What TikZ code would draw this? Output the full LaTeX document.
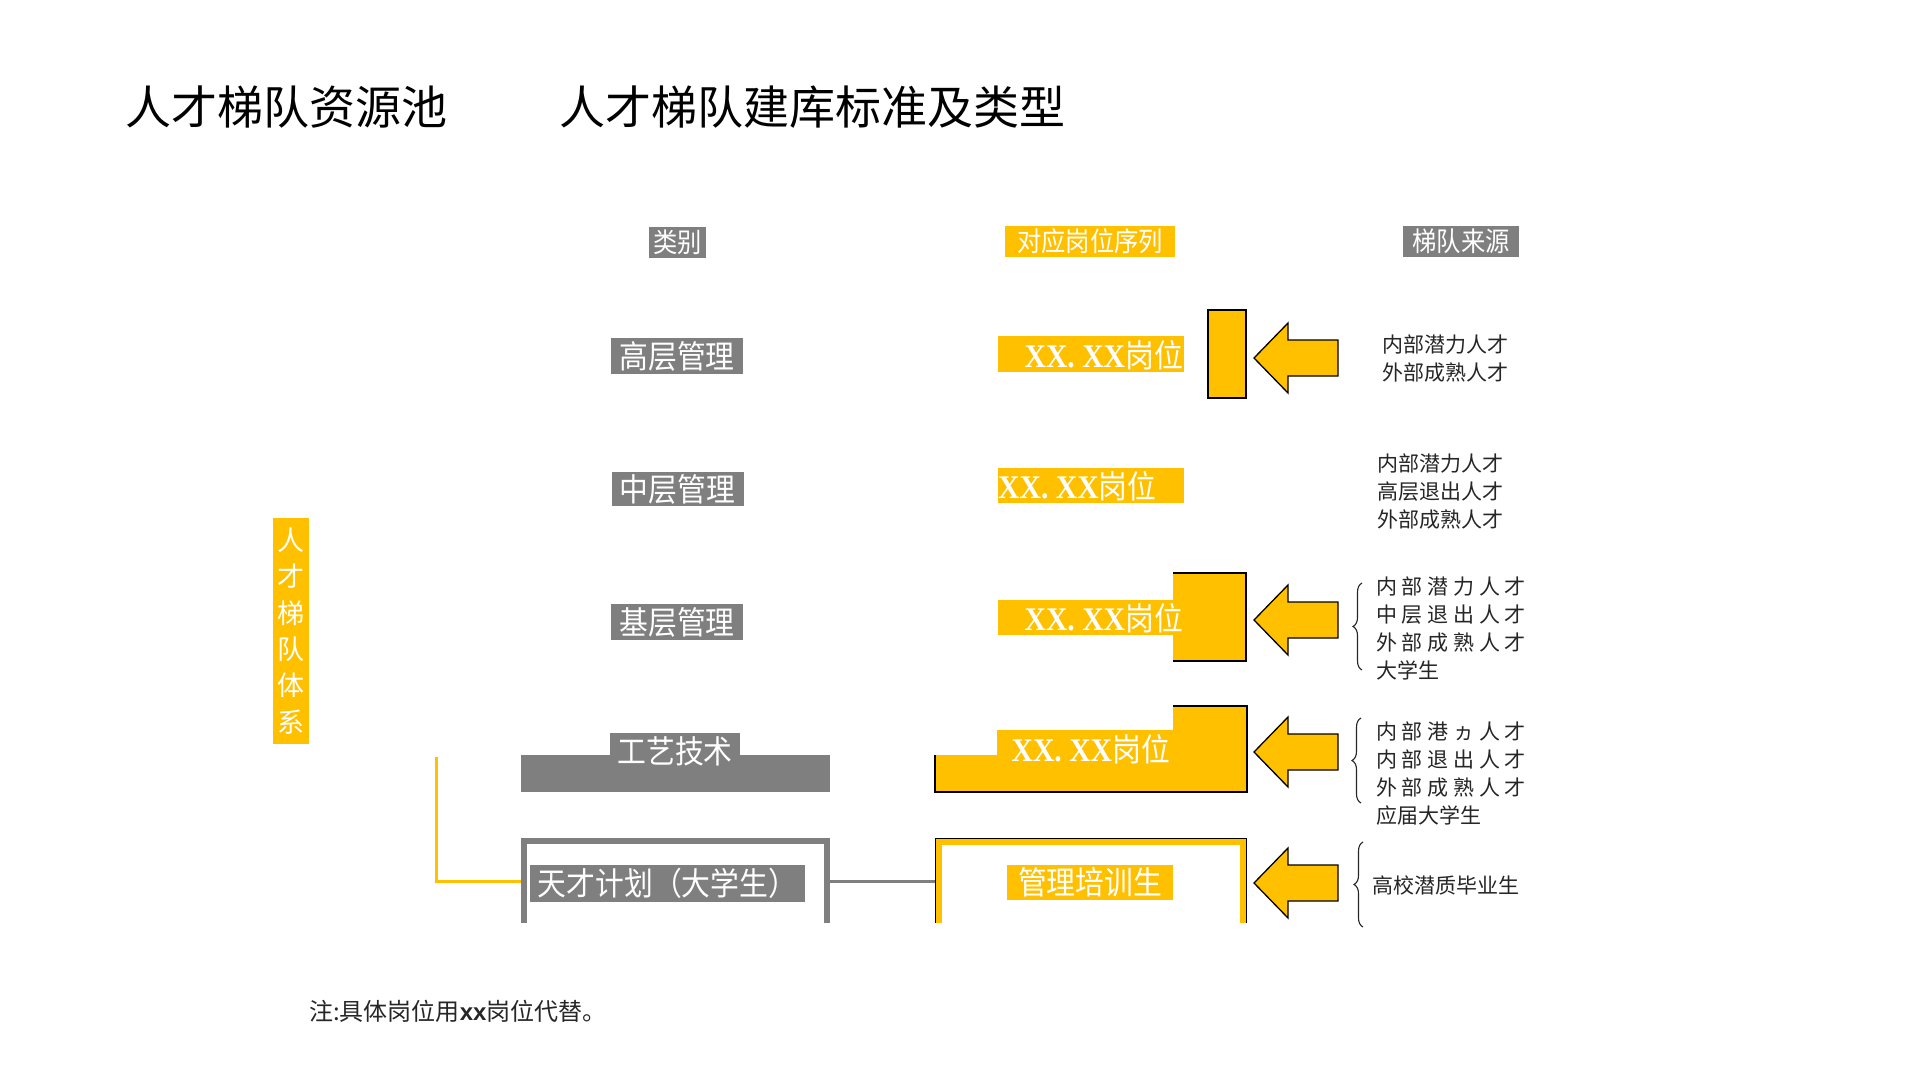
\documentclass[tikz,border=0pt]{standalone}
\usepackage{fontspec}
\setmainfont{Noto Sans CJK SC}
\newfontfamily\cjkn[FakeStretch=0.9]{Noto Sans CJK SC}
\newfontfamily\xxfont[FakeStretch=0.9]{Liberation Serif Bold}
\newfontfamily\latinsans{Liberation Sans}
\usetikzlibrary{decorations.pathreplacing}
\definecolor{gold}{HTML}{FFC000}
\definecolor{midgray}{HTML}{7F7F7F}
\definecolor{txt}{HTML}{262626}
\tikzset{
  hdr/.style={inner sep=0pt, text=white, minimum height=31pt, font=\cjkn\fontsize{27}{27}\selectfont},
  graylabel/.style={fill=midgray, inner sep=0pt, text=white, minimum width=132pt, minimum height=36pt, font=\cjkn\fontsize{32}{32}\selectfont},
  goldlabel/.style={fill=gold, inner sep=0pt, text=white, font=\cjkn\fontsize{32}{32}\selectfont},
  xxtext/.style={inner sep=0pt, text=white, font=\cjkn\fontsize{32}{32}\selectfont},
  srctext/.style={inner sep=0pt, text=txt, anchor=west, align=left, font=\fontsize{21}{28}\selectfont},
  brace/.style={decorate, decoration={brace, amplitude=9pt}, draw=txt, line width=1.1pt},
  blockarrow/.style={fill=gold, draw=black, line width=1.3pt, line join=miter},
  outline/.style={draw=black, line width=2pt},
}
\newcommand\srcarrow[1]{%
  \filldraw[blockarrow] (1254,#1) -- (1288,#1-35) -- (1288,#1-18) -- (1338,#1-18)
    -- (1338,#1+18) -- (1288,#1+18) -- (1288,#1+35) -- cycle;}
\newcommand\xxpos{{\xxfont\fontsize{33}{33}\selectfont XX. XX}岗位}
\begin{document}
\begin{tikzpicture}[x=1pt,y=-1pt]
\fill[white] (0,0) rectangle (1915,1080);
\useasboundingbox (0,0) rectangle (1915,1080);

% titles
\node[anchor=west, inner sep=0pt, font=\fontsize{46}{46}\selectfont] (t1) at (125,107) {人才梯队资源池};
\node[anchor=west, inner sep=0pt, font=\fontsize{46}{46}\selectfont] (t2) at (559,107) {人才梯队建库标准及类型};

% headers
\node[hdr, fill=midgray, minimum width=57pt] (h1) at (677.5,242) {类别};
\node[hdr, fill=gold, minimum width=170pt] (h2) at (1090,241) {对应岗位序列};
\node[hdr, fill=midgray, minimum width=116pt] (h3) at (1461,241) {梯队来源};

% left vertical box
\node[fill=gold, text=white, inner sep=0pt, minimum width=36pt, minimum height=226pt, align=center,
  font=\fontsize{27}{36.4}\selectfont] (sys) at (291,631) {人\\才\\梯\\队\\体\\系};

% row 1
\node[graylabel] (c1) at (677,356) {高层管理};
\fill[gold] (998,336) rectangle (1184,372);
\node[xxtext, anchor=east] (p1) at (1183,355) {\xxpos};
\filldraw[fill=gold, outline] (1208,310) rectangle (1246,398);
\srcarrow{358}
\node[srctext] (s1) at (1382,359) {内部潜力人才\\外部成熟人才};

% row 2
\node[graylabel, minimum height=34pt] (c2) at (677.5,489) {中层管理};
\fill[gold] (998,468) rectangle (1184,503);
\node[xxtext, anchor=west] (p2) at (998,486) {\xxpos};
\node[srctext] (s2) at (1377,491.5) {内部潜力人才\\高层退出人才\\外部成熟人才};

% row 3
\node[graylabel] (c3) at (677,622) {基层管理};
\fill[gold] (998,600) rectangle (1173,635);
\fill[gold] (1173,573) rectangle (1246,661);
\draw[outline] (1173,573) -- (1246,573) -- (1246,661) -- (1173,661);
\node[xxtext, anchor=east] (p3) at (1183,618) {\xxpos};
\srcarrow{620}
\draw[brace] (1362,670) -- (1362,583);
\node[srctext] (s3) at (1376,628.5) {内 部 潜 力 人 才\\中 层 退 出 人 才\\外 部 成 熟 人 才\\大学生};

% row 4
\fill[midgray] (521,755) rectangle (830,792);
\node[graylabel, minimum width=130pt] (c4) at (675,751) {工艺技术};
\fill[gold] (935,755) -- (997,755) -- (997,730) -- (1173,730) -- (1173,706) -- (1247,706)
  -- (1247,792) -- (935,792) -- cycle;
\draw[outline] (1173,706) -- (1247,706) -- (1247,792) -- (935,792) -- (935,755);
\node[xxtext, anchor=east] (p4) at (1170,749) {\xxpos};
\srcarrow{752}
\draw[brace] (1361,803) -- (1361,718);
\node[srctext] (s4) at (1376,774) {内 部 港 ヵ 人 才\\内 部 退 出 人 才\\外 部 成 熟 人 才\\应届大学生};

% row 5
\draw[midgray, line width=6pt] (524,923) -- (524,841) -- (827,841) -- (827,923);
\node[graylabel, minimum width=275pt, minimum height=37pt] (c5) at (667.5,883.5) {天才计划（大学生）};
\draw[gold, line width=6pt] (939,923) -- (939,842) -- (1243,842) -- (1243,923);
\draw[black, line width=1.5pt] (935.5,923) -- (935.5,838.5) -- (1246.5,838.5) -- (1246.5,923);
\node[goldlabel, minimum width=166pt, minimum height=35pt] (p5) at (1090,882.5) {管理培训生};
\srcarrow{883}
\draw[brace] (1363,927) -- (1363,842);
\node[srctext] (s5) at (1372,885) {高校潜质毕业生};

% connectors
\coordinate (ystart) at (436,757);
\coordinate (gleft) at (521,881);
\coordinate (gright) at (830,881);
\coordinate (yleft) at (935,881);
\draw[gold, line width=3pt] (ystart) |- (gleft);
\draw[midgray, line width=3pt] (gright) -- (yleft);

% footnote
\node[anchor=west, inner sep=0pt, text=txt, font=\fontsize{24}{24}\selectfont] (note) at (309,1011)
  {注:具体岗位用{\latinsans\bfseries xx}岗位代替。};
\end{tikzpicture}
\end{document}
